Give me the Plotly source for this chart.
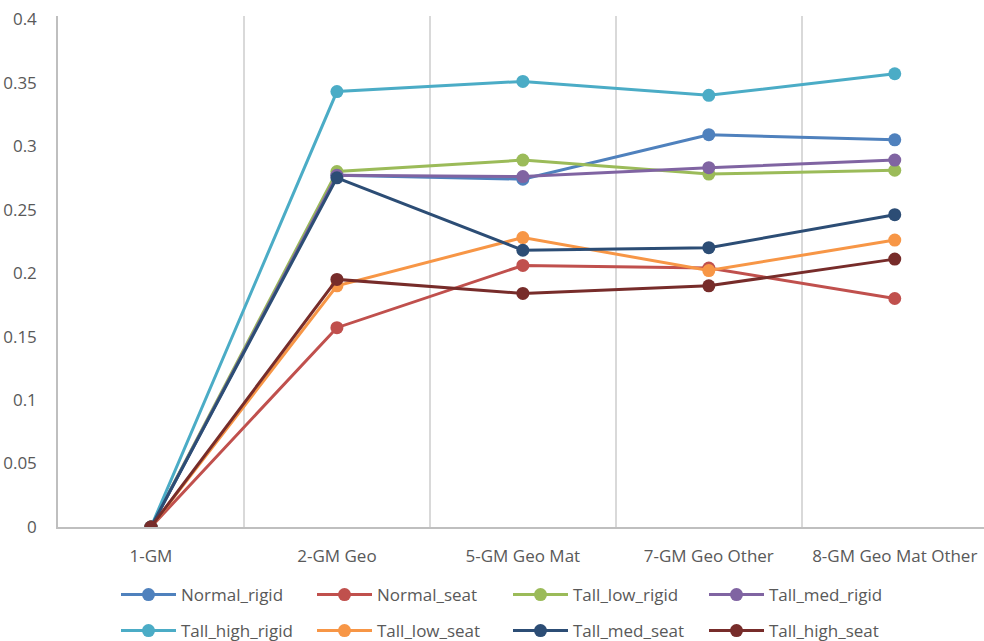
import plotly.graph_objects as go

categories = ["1-GM", "2-GM Geo", "5-GM Geo Mat", "7-GM Geo Other", "8-GM Geo Mat Other"]

series_names = ["Normal_rigid", "Normal_seat", "Tall_low_rigid", "Tall_med_rigid",
                "Tall_high_rigid", "Tall_low_seat", "Tall_med_seat", "Tall_high_seat"]

normal_rigid    = [0, 0.277, 0.274, 0.309, 0.305]
normal_seat     = [0, 0.157, 0.206, 0.204, 0.180]
tall_low_rigid  = [0, 0.280, 0.289, 0.278, 0.281]
tall_med_rigid  = [0, 0.277, 0.276, 0.283, 0.289]
tall_high_rigid = [0, 0.343, 0.351, 0.340, 0.357]
tall_low_seat   = [0, 0.190, 0.228, 0.202, 0.226]
tall_med_seat   = [0, 0.275, 0.218, 0.220, 0.246]
tall_high_seat  = [0, 0.195, 0.184, 0.190, 0.211]

series_values = [normal_rigid, normal_seat, tall_low_rigid, tall_med_rigid,
                 tall_high_rigid, tall_low_seat, tall_med_seat, tall_high_seat]

colors = ["#4F81BD", "#C0504D", "#9BBB59", "#8064A2",
          "#4BACC6", "#F79646", "#2C4D75", "#772C2A"]

FONT = "'Open Sans', sans-serif"
FONT_SIZE = 17
TEXT_COLOR = "#595959"
x_pos = list(range(len(categories)))

fig = go.Figure()
for i, (name, vals, col) in enumerate(zip(series_names, series_values, colors)):
    fig.add_trace(go.Scatter(
        x=x_pos, y=vals, name=name, mode="lines+markers",
        line=dict(color=col, width=3),
        marker=dict(color=col, size=13),
        legend="legend" if i < 4 else "legend2",
    ))

legend_common = dict(
    orientation="h", xref="container", yref="container",
    xanchor="left", yanchor="middle",
    font=dict(family=FONT, size=FONT_SIZE, color=TEXT_COLOR),
    entrywidth=126, entrywidthmode="pixels", itemwidth=55,
    bgcolor="rgba(0,0,0,0)", borderwidth=0, traceorder="normal",
)

fig.update_layout(
    width=984, height=641,
    margin=dict(l=58, r=0, t=16, b=114),
    paper_bgcolor="white", plot_bgcolor="white",
    font=dict(family=FONT, size=FONT_SIZE, color=TEXT_COLOR),
    showlegend=True,
    legend=dict(x=116 / 984, y=1 - 595 / 641, **legend_common),
    legend2=dict(x=116 / 984, y=1 - 631 / 641, **legend_common),
    xaxis=dict(
        range=[-0.5, 4.48], tickvals=x_pos, ticktext=categories,
        showgrid=False, zeroline=False, showline=True, linecolor="#BFBFBF", linewidth=1.5,
        ticks="", ticklabelstandoff=13,
        tickfont=dict(family=FONT, size=FONT_SIZE, color=TEXT_COLOR),
        minor=dict(tickvals=[0.5, 1.5, 2.5, 3.5], showgrid=True,
                   gridcolor="#D9D9D9", gridwidth=1.5),
    ),
    yaxis=dict(
        range=[0, 0.4025], tickvals=[0, 0.05, 0.1, 0.15, 0.2, 0.25, 0.3, 0.35, 0.4],
        ticktext=["0", "0.05", "0.1", "0.15", "0.2", "0.25", "0.3", "0.35", "0.4"],
        showgrid=False, zeroline=False, showline=True, linecolor="#BFBFBF", linewidth=1.5,
        ticks="", ticklabelstandoff=16,
        tickfont=dict(family=FONT, size=FONT_SIZE, color=TEXT_COLOR),
    ),
)

fig.write_html("out.html")
